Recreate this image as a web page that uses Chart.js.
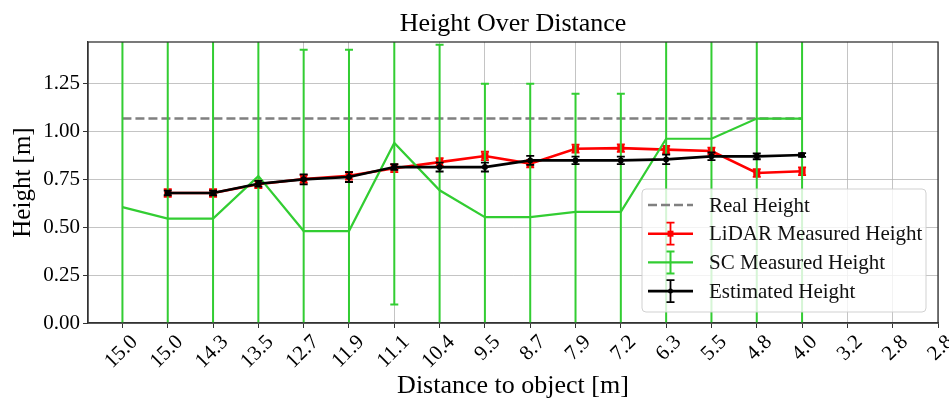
<!DOCTYPE html>
<html>
<head>
<meta charset="utf-8">
<title>Height Over Distance</title>
<script src="https://cdn.jsdelivr.net/npm/chart.js@4.4.0/dist/chart.umd.min.js"></script>
<style>
  html, body { margin: 0; padding: 0; background: #fff; }
</style>
</head>
<body>
<canvas id="heightChart" width="949" height="406"></canvas>
<script>
// x tick labels: distance to the object at each measurement step
const distanceLabels = ['15.0', '15.0', '14.3', '13.5', '12.7', '11.9', '11.1', '10.4', '9.5',
                        '8.7', '7.9', '7.2', '6.3', '5.5', '4.8', '4.0', '3.2', '2.8', '2.8'];
const yTicks = [0, 0.25, 0.5, 0.75, 1.0, 1.25];

const realHeight = 1.067;
const realSteps = 16;

const lidarHeight = [null, 0.679, 0.679, 0.724, 0.752, 0.769, 0.808, 0.840, 0.872, 0.832, 0.910, 0.913, 0.905, 0.898, 0.783, 0.792];
const lidarErr    = [null, 0.020, 0.020, 0.020, 0.020, 0.020, 0.020, 0.020, 0.022, 0.020, 0.021, 0.020, 0.020, 0.018, 0.020, 0.020];

const scHeight = [0.605, 0.545, 0.545, 0.767, 0.480, 0.480, 0.940, 0.693, 0.553, 0.553, 0.580, 0.580, 0.962, 0.962, 1.067, 1.067];
const scErr    = [1.200, 1.300, 1.300, 1.100, 0.947, 0.947, 0.844, 0.760, 0.696, 0.696, 0.617, 0.617, 1.100, 1.100, 1.200, 1.200];

const estHeight = [null, 0.679, 0.679, 0.727, 0.750, 0.762, 0.814, 0.814, 0.814, 0.849, 0.849, 0.849, 0.854, 0.870, 0.870, 0.877];
const estErr    = [null, 0.012, 0.012, 0.015, 0.026, 0.026, 0.015, 0.023, 0.023, 0.024, 0.020, 0.020, 0.025, 0.020, 0.015, 0.010];

const FONT = '"Liberation Serif", "DejaVu Serif", serif';
const GREEN = '#32cd32';
const TITLE = 'Height Over Distance';

function toPoints(values) {
    return values.map((v, i) => ({ x: i, y: v })).filter(p => p.y !== null);
}

// vertical error bars with caps, drawn just before each line
const errorBars = {
    id: 'errorBars',
    beforeDatasetDraw(chart, args) {
        const ds = chart.data.datasets[args.index];
        if (!ds.errors) return;
        const { ctx, chartArea: a, scales: { x, y } } = chart;
        const cap = 4;
        ctx.save();
        ctx.beginPath();
        ctx.rect(a.left, a.top, a.right - a.left, a.bottom - a.top);
        ctx.clip();
        ctx.strokeStyle = ds.borderColor;
        ctx.lineWidth = ds.errorWidth;
        ds.data.forEach(p => {
            const e = ds.errors[p.x];
            if (e == null) return;
            const px = x.getPixelForValue(p.x);
            const top = y.getPixelForValue(p.y + e);
            const bot = y.getPixelForValue(p.y - e);
            ctx.beginPath();
            ctx.moveTo(px, top); ctx.lineTo(px, bot);
            ctx.moveTo(px - cap, top); ctx.lineTo(px + cap, top);
            ctx.moveTo(px - cap, bot); ctx.lineTo(px + cap, bot);
            ctx.stroke();
        });
        ctx.restore();
    }
};

// full box around the plot, title centred over it
const frame = {
    id: 'frame',
    afterDatasetsDraw(chart) {
        const { ctx, chartArea: a } = chart;
        ctx.save();
        ctx.strokeStyle = '#333';
        ctx.lineWidth = 1.3;
        ctx.strokeRect(a.left, a.top, a.right - a.left, a.bottom - a.top);
        ctx.fillStyle = '#000';
        ctx.font = '26px ' + FONT;
        ctx.textAlign = 'center';
        ctx.textBaseline = 'alphabetic';
        ctx.fillText(TITLE, (a.left + a.right) / 2, a.top - 11);
        ctx.restore();
    }
};

// legend box in the lower right corner of the plot
const cornerLegend = {
    id: 'cornerLegend',
    afterDraw(chart) {
        const { ctx, chartArea: a } = chart;
        const w = 284, h = 123;
        const bx = a.right - 12 - w, by = a.bottom - 11 - h;
        ctx.save();
        ctx.beginPath();
        ctx.roundRect(bx, by, w, h, 4);
        ctx.fillStyle = 'rgba(255,255,255,0.8)';
        ctx.fill();
        ctx.strokeStyle = 'rgba(204,204,204,0.9)';
        ctx.lineWidth = 1;
        ctx.stroke();

        const x0 = bx + 6, x1 = bx + 51, xm = (x0 + x1) / 2;
        ctx.font = '21px ' + FONT;
        ctx.textBaseline = 'middle';
        chart.data.datasets.forEach((ds, i) => {
            const cy = by + 16 + i * 28.7;
            ctx.strokeStyle = ds.borderColor;
            ctx.lineWidth = ds.borderWidth;
            ctx.setLineDash(ds.borderDash || []);
            ctx.beginPath();
            ctx.moveTo(x0, cy); ctx.lineTo(x1, cy);
            ctx.stroke();
            ctx.setLineDash([]);
            if (ds.errors) {
                ctx.lineWidth = ds.errorWidth;
                ctx.beginPath();
                ctx.moveTo(xm, cy - 11); ctx.lineTo(xm, cy + 11);
                ctx.moveTo(xm - 4, cy - 11); ctx.lineTo(xm + 4, cy - 11);
                ctx.moveTo(xm - 4, cy + 11); ctx.lineTo(xm + 4, cy + 11);
                ctx.stroke();
            }
            if (ds.pointRadius > 0) {
                ctx.fillStyle = ds.borderColor;
                if (ds.pointStyle === 'rect') {
                    ctx.fillRect(xm - 3, cy - 3, 6, 6);
                } else {
                    ctx.beginPath();
                    ctx.arc(xm, cy, 2.5, 0, Math.PI * 2);
                    ctx.fill();
                }
            }
            ctx.fillStyle = '#111';
            ctx.fillText(ds.label, bx + 67, cy + 1);
        });
        ctx.restore();
    }
};

const ctx = document.getElementById('heightChart').getContext('2d');

const heightChart = new Chart(ctx, {
    type: 'line',
    data: {
        datasets: [
            {
                label: 'Real Height',
                data: Array.from({ length: realSteps }, (_, i) => ({ x: i, y: realHeight })),
                borderColor: '#808080',
                borderWidth: 2.5,
                borderDash: [9, 4],
                pointRadius: 0,
                order: 3
            },
            {
                label: 'LiDAR Measured Height',
                data: toPoints(lidarHeight),
                errors: lidarErr,
                errorWidth: 1.8,
                borderColor: '#ff0000',
                backgroundColor: '#ff0000',
                borderWidth: 2.6,
                pointStyle: 'rect',
                pointRadius: 5,
                pointBorderWidth: 0,
                order: 2
            },
            {
                label: 'SC Measured Height',
                data: toPoints(scHeight),
                errors: scErr,
                errorWidth: 2,
                borderColor: GREEN,
                borderWidth: 2.2,
                pointRadius: 0,
                order: 1
            },
            {
                label: 'Estimated Height',
                data: toPoints(estHeight),
                errors: estErr,
                errorWidth: 1.8,
                borderColor: '#000000',
                backgroundColor: '#000000',
                borderWidth: 2.6,
                pointStyle: 'circle',
                pointRadius: 3,
                pointBorderWidth: 0,
                order: 0
            }
        ]
    },
    options: {
        responsive: false,
        animation: false,
        layout: { padding: { left: 0, right: 11, top: 42, bottom: 0 } },
        elements: { line: { tension: 0 } },
        scales: {
            x: {
                type: 'linear',
                min: -0.76,
                max: distanceLabels.length - 1,
                afterBuildTicks: (scale) => {
                    scale.ticks = distanceLabels.map((_, i) => ({ value: i }));
                },
                afterFit: (scale) => {
                    scale.height = 83;
                    scale.paddingLeft = 0;
                    scale.paddingRight = 0;
                },
                ticks: {
                    callback: (v) => distanceLabels[v],
                    minRotation: 45,
                    maxRotation: 45,
                    autoSkip: false,
                    labelOffset: 12,
                    padding: 2,
                    color: '#000',
                    font: { family: FONT, size: 21 }
                },
                grid: { color: 'rgba(176,176,176,0.75)', tickColor: '#333', tickLength: 5, lineWidth: 1 },
                border: { color: '#333', width: 1.3 },
                title: {
                    display: true,
                    text: 'Distance to object [m]',
                    color: '#000',
                    font: { family: FONT, size: 26 },
                    padding: { top: 0, bottom: 4 }
                }
            },
            y: {
                min: 0,
                max: 1.467,
                afterBuildTicks: (scale) => {
                    scale.ticks = yTicks.map(v => ({ value: v }));
                },
                afterFit: (scale) => {
                    scale.width = 88;
                    scale.paddingTop = 0;
                    scale.paddingBottom = 0;
                },
                ticks: {
                    callback: (v) => v.toFixed(2),
                    padding: 3,
                    color: '#000',
                    font: { family: FONT, size: 21 }
                },
                grid: { color: 'rgba(176,176,176,0.75)', tickColor: '#333', tickLength: 5, lineWidth: 1 },
                border: { color: '#333', width: 1.3 },
                title: {
                    display: true,
                    text: 'Height [m]',
                    color: '#000',
                    font: { family: FONT, size: 25 },
                    padding: { top: 8, bottom: 0 }
                }
            }
        },
        plugins: {
            legend: { display: false },
            tooltip: { enabled: false },
            title: { display: false }
        }
    },
    plugins: [errorBars, frame, cornerLegend]
});
</script>
</body>
</html>
